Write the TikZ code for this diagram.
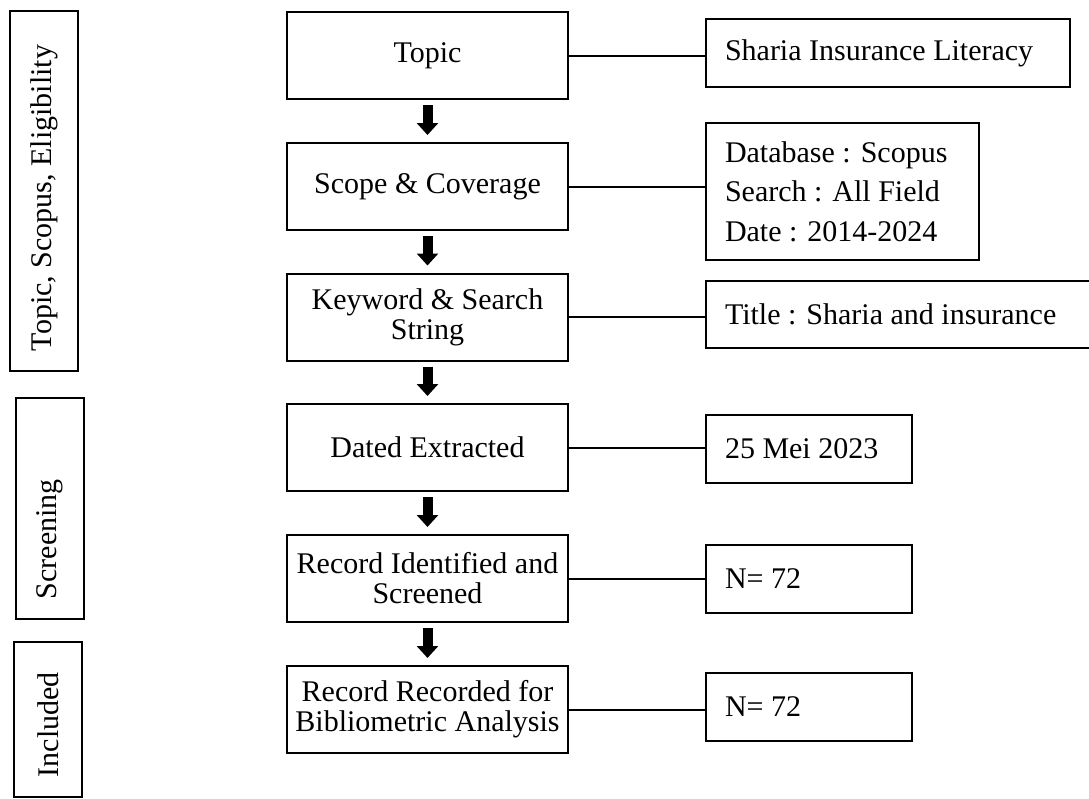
\documentclass[tikz,border=0pt]{standalone}
\usepackage{fontspec}
\setmainfont{Liberation Serif}
\usepackage{tikz}
\usetikzlibrary{arrows.meta}

\tikzset{
  stepbox/.style={draw, line width=1pt, minimum width=140.5pt, minimum height=43.5pt,
    align=center, font=\fontsize{15}{15}\selectfont},
  infobox/.style={draw, line width=1pt, anchor=west, inner xsep=9.5pt,
    align=flush left, font=\fontsize{15}{19.75}\selectfont},
  phasebox/.style={draw, line width=1pt, rotate=90, inner xsep=10pt,
    align=flush left, minimum height=34pt, font=\fontsize{15}{15}\selectfont},
  link/.style={line width=1pt},
  blockarrow/.style={line width=5pt, -{Triangle[width=10.5pt,length=6pt]},
    shorten <=2.5pt, shorten >=3.5pt}
}

\begin{document}
\begin{tikzpicture}[x=0.5pt, y=-0.5pt]
            \useasboundingbox (0,0) rectangle (1089,799);

            % phases
            \node[phasebox, text width=160pt] (phaseA) at (44,191) {Topic, Scopus, Eligibility};
            \node[phasebox, text width=90.5pt] (phaseB) at (49.5,508.5) {Screening};
            \node[phasebox, text width=57.5pt] (phaseC) at (48,719.5) {Included};

            % steps
            \node[stepbox] (topic) at (427.5,55.5) {Topic};
            \node[stepbox] (scope) at (427.5,186.5) {Scope \& Coverage};
            \node[stepbox] (keyword) at (427.5,317) {Keyword \& Search\\String};
            \node[stepbox] (dated) at (427.5,447.5) {Dated Extracted};
            \node[stepbox] (screened) at (427.5,578.5) {Record Identified and\\Screened};
            \node[stepbox] (recorded) at (427.5,709.5) {Record Recorded for\\Bibliometric Analysis};

            % details
            \node[infobox, text width=163pt, minimum height=34pt] (sharia) at (705,53) {Sharia Insurance Literacy};
            \node[infobox, text width=117.5pt, minimum height=68.5pt] (database) at (705,191.5) {Database : Scopus\\Search : All Field\\Date : 2014-2024};
            \node[infobox, text width=190pt, minimum height=33.5pt] (title) at (705,314.5) {Title : Sharia and insurance};
            \node[infobox, text width=84pt, minimum height=34pt] (date) at (705,449) {25 Mei 2023};
            \node[infobox, text width=84pt, minimum height=34pt] (countA) at (705,579) {N= 72};
            \node[infobox, text width=84pt, minimum height=34pt] (countB) at (705,707) {N= 72};

            \draw[blockarrow] (topic.south) -- (scope.north); % topic-scope
            \draw[blockarrow] (scope.south) -- (keyword.north); % scope-keyword
            \draw[blockarrow] (keyword.south) -- (dated.north); % keyword-dated
            \draw[blockarrow] (dated.south) -- (screened.north); % dated-screened
            \draw[blockarrow] (screened.south) -- (recorded.north); % screened-recorded

            \draw[link] (topic.east) -- (topic.east -| sharia.west); % topic-sharia
            \draw[link] (scope.east) -- (scope.east -| database.west); % scope-database
            \draw[link] (keyword.east) -- (keyword.east -| title.west); % keyword-title
            \draw[link] (dated.east) -- (dated.east -| date.west); % dated-date
            \draw[link] (screened.east) -- (screened.east -| countA.west); % screened-countA
            \draw[link] (recorded.east) -- (recorded.east -| countB.west); % recorded-countB
        \end{tikzpicture}
\end{document}
